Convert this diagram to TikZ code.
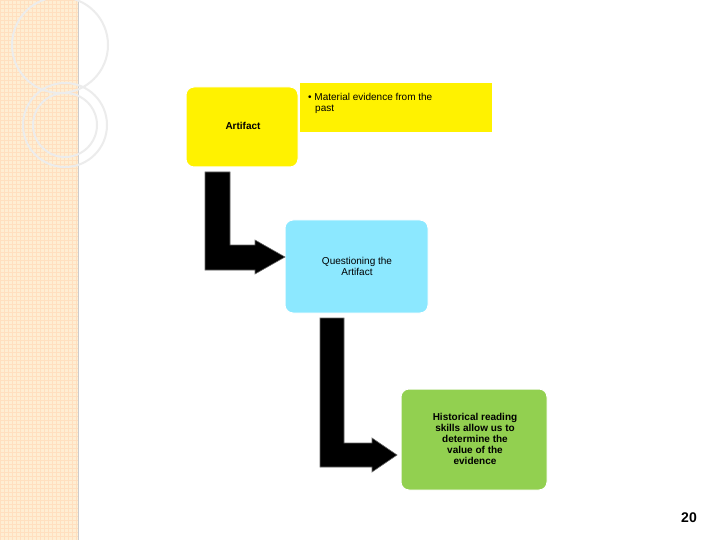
\documentclass[tikz,border=0pt]{standalone}
\usepackage{fontspec}
\setmainfont{Liberation Sans}
\begin{document}
\begin{tikzpicture}[x=1pt,y=-1pt,
  box/.style={rounded corners=8pt,draw=white,line width=1pt,align=center,inner sep=0pt},
  larrow/.style={fill=black,draw=black!60,line width=0.6pt}]
\useasboundingbox (0,0) rectangle (720,540);
\fill[white] (0,0) rectangle (720,540);
\fill[yellow!20!orange!15!white] (0,0) rectangle (78,540);
\foreach \x in {0,4,...,76}{\draw[orange!25,line width=0.3pt] (\x,0)--(\x,540);}
\foreach \y in {0,4,...,540}{\draw[orange!25,line width=0.3pt] (0,\y)--(78,\y);}
\draw[gray!40,line width=1pt] (78,0)--(78,540);
\draw[white!85!gray,line width=2pt] (60,45) circle (48);
\draw[white!85!gray,line width=2pt] (65,125) circle (42);
\draw[white!85!gray,line width=2pt] (65,125) circle (32);
% boxes
\node[box,fill=yellow,minimum width=112pt,minimum height=80pt] (art) at (242,127) {};
\node[font=\bfseries\fontsize{10}{12}\selectfont] (artt) at (243,126) {Artifact};
\node[fill=yellow,minimum width=192pt,minimum height=49pt,inner sep=0pt] (mat) at (396,108) {};
\node[anchor=north west,align=left,font=\fontsize{10}{12}\selectfont,inner sep=0pt] (matt) at (308,93) {\textbullet\ Material evidence from the\\[-1pt]\hspace*{7pt}past};
\node[box,fill=cyan!45!teal!45!white,fill=blue!20!cyan!45!white,minimum width=143pt,minimum height=93pt] (q) at (356.5,266.5) {};
\node[align=center,font=\fontsize{10}{12}\selectfont,inner sep=0pt] (qt) at (357,266) {Questioning the\\[-1pt]Artifact};
\node[box,fill=green!45!lime!70!olive!90,fill={rgb,255:red,146;green,208;blue,80},minimum width=146pt,minimum height=101pt] (h) at (474,439.5) {};
\node[align=center,font=\bfseries\fontsize{10}{12}\selectfont,inner sep=0pt] (ht) at (475,439) {Historical reading\\[-1pt]skills allow us to\\[-1pt]determine the\\[-1pt]value of the\\[-1pt]evidence};
% arrows
\draw[larrow] (205,172)--(230,172)--(230,245)--(255,245)--(255,240)--(285,257)--(255,274)--(255,270)--(205,270)--cycle;
\draw[larrow] (320,318)--(344,318)--(344,443)--(372,443)--(372,438)--(397,455)--(372,472)--(372,467)--(320,467)--cycle;
\node[font=\bfseries\fontsize{14}{16}\selectfont] (n) at (689,518) {20};
\end{tikzpicture}
\end{document}
